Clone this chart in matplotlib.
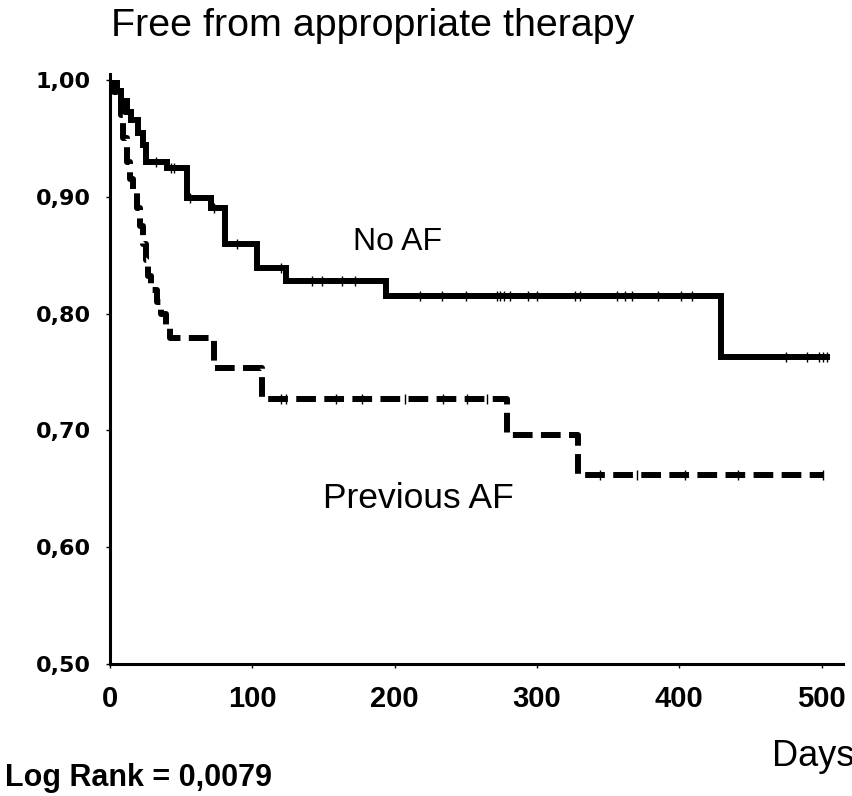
import numpy as np
import matplotlib
matplotlib.use('Agg')
from matplotlib import pyplot as plt
from matplotlib import font_manager

installed = {f.name for f in font_manager.fontManager.ttflist}
narrow = 'Liberation Sans Narrow' if 'Liberation Sans Narrow' in installed else 'Liberation Sans'

# Kaplan-Meier steps: day of each event and survival after it
no_af_t = [0, 5, 8, 12, 15, 20, 23, 25, 40, 54, 71, 81, 103, 124, 194, 429]
no_af_s = [1.000, 0.991, 0.982, 0.973, 0.966, 0.955, 0.944, 0.930, 0.925,
           0.899, 0.890, 0.860, 0.839, 0.828, 0.815, 0.763]
no_af_end = 506
no_af_cens = [32, 43, 45, 56, 73, 89, 120, 142, 149, 163, 172, 218, 233, 250,
              272, 274, 277, 281, 294, 300, 327, 330, 356, 362, 367, 385, 401,
              409, 475, 490, 498, 501, 504]

prev_af_t = [0, 3, 8, 9, 12, 14, 16, 19, 21, 23, 25, 27, 29, 33, 36, 39, 42,
             73, 107, 279, 329]
prev_af_s = [1.000, 0.990, 0.970, 0.950, 0.930, 0.915, 0.903, 0.890, 0.875,
             0.860, 0.846, 0.832, 0.820, 0.810, 0.800, 0.790, 0.779, 0.753,
             0.727, 0.696, 0.662]
prev_af_end = 501
prev_af_cens = [120, 124, 159, 177, 207, 234, 251, 265, 344, 370, 404, 441, 501]

x_ticks = [0, 100, 200, 300, 400, 500]
y_ticks = [0.5, 0.6, 0.7, 0.8, 0.9, 1.0]
y_labels = ['0,50', '0,60', '0,70', '0,80', '0,90', '1,00']


def km_curve(ax, t, s, end, cens, ls):
    t = np.asarray(t, dtype=float)
    s = np.asarray(s, dtype=float)
    ax.plot(np.append(t, end), np.append(s, s[-1]), color='k', lw=4.3,
            ls=ls, drawstyle='steps-post', solid_capstyle='butt',
            dash_capstyle='butt', solid_joinstyle='miter')
    c = np.asarray(cens, dtype=float)
    sc = s[np.searchsorted(t, c, side='right') - 1]
    ax.plot(c, sc, ls='none', marker='|', color='k', ms=7.5, mew=1.0)


W, H = 853, 796
fig = plt.figure(figsize=(W / 100, H / 100), dpi=100)
ax = fig.add_axes([110 / W, 132 / H, 733 / W, 584 / H])

km_curve(ax, no_af_t, no_af_s, no_af_end, no_af_cens, '-')
km_curve(ax, prev_af_t, prev_af_s, prev_af_end, prev_af_cens, (0, (3.3, 1.4)))

ax.set_xlim(0, 515)
ax.set_ylim(0.5, 1.0)
ax.spines['top'].set_visible(False)
ax.spines['right'].set_visible(False)
for sp in ('left', 'bottom'):
    ax.spines[sp].set_linewidth(2.2)
ax.spines['left'].set_bounds(0.5, 1.005)

ax.set_xticks(x_ticks)
ax.set_xticklabels([str(v) for v in x_ticks], family=narrow,
                   fontweight='bold', fontsize=21)
ax.set_yticks(y_ticks)
ax.set_yticklabels(y_labels, family='DejaVu Sans', fontweight='bold',
                   fontsize=16)
ax.tick_params(axis='x', length=3, width=1, pad=12)
ax.tick_params(axis='y', length=3, width=1, pad=11)

ax.text(202, 0.861, 'No AF', ha='center', va='center',
        family='Liberation Sans', fontsize=23)
ax.text(217, 0.642, 'Previous AF', ha='center', va='center',
        family='Liberation Sans', fontsize=25.5)

fig.text(111 / W, 1 - 8 / H, 'Free from appropriate therapy', ha='left',
         va='top', family='Liberation Sans', fontsize=28.4)
fig.text(772 / W, 1 - 757 / H, 'Days', ha='left', va='center',
         family=narrow, fontsize=26)
fig.text(5 / W, 1 - 778 / H, 'Log Rank = 0,0079', ha='left', va='center',
         family=narrow, fontweight='bold', fontsize=22)

plt.savefig('out.png', dpi=100)
